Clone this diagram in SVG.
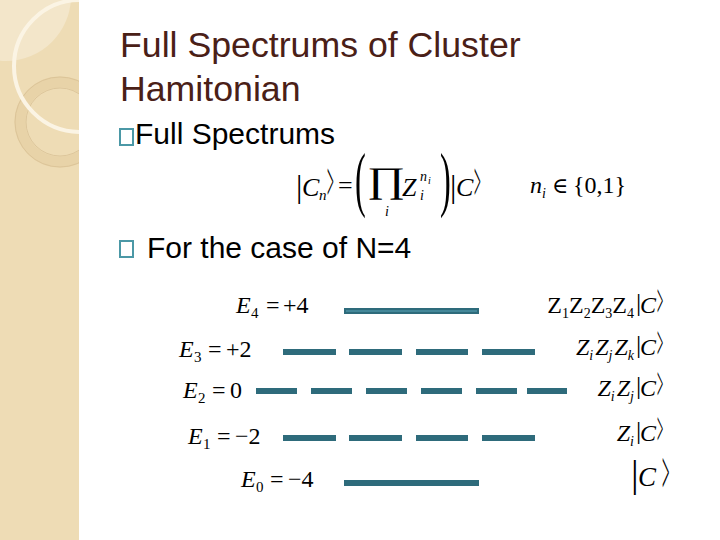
<svg xmlns="http://www.w3.org/2000/svg" width="720" height="540" viewBox="0 0 720 540">
<style>
.ttl{font-family:"Liberation Sans",Arial,sans-serif;font-size:35.7px;fill:#4A2017}
.bt{font-family:"Liberation Sans",Arial,sans-serif;font-size:30px;fill:#000}
.m{font-family:"Liberation Serif","DejaVu Serif",serif;fill:#000}
.mi{font-family:"Liberation Serif","DejaVu Serif",serif;font-style:italic;fill:#000}
.k{font-family:"Liberation Serif","DejaVu Serif",serif;font-size:22px;fill:#000}
.bar{stroke:#2E6B7B;stroke-width:6;fill:none}
.box{fill:none;stroke:#4B98A6;stroke-width:2}
</style>
<rect x="0" y="0" width="720" height="540" fill="#fff"/>
<g id="band">
<rect x="0" y="0" width="79" height="540" fill="#EEDCB5"/>
<clipPath id="bc"><rect x="0" y="0" width="79" height="540"/></clipPath>
<g clip-path="url(#bc)">
<circle cx="6" cy="-4" r="65" fill="#F3E6CA"/>
<circle cx="60" cy="122" r="40" fill="none" stroke="#E8D3A8" stroke-width="11"/>
<circle cx="60" cy="122" r="45" fill="none" stroke="#D8C094" stroke-width="0.8"/>
<circle cx="60" cy="122" r="34" fill="none" stroke="#D8C094" stroke-width="0.8"/>
<circle cx="80" cy="66" r="66" fill="none" stroke="#FBF4E4" stroke-width="4"/>
</g>
</g>
<g id="title">
<text class="ttl" x="120" y="57">Full Spectrums of Cluster</text>
<text class="ttl" x="120" y="101">Hamitonian</text>
</g>
<g id="bullet1">
<rect class="box" x="120" y="129" width="13" height="16"/>
<text class="bt" x="135" y="144">Full Spectrums</text>
</g>
<g id="formula">
<text class="m" x="296" y="197" style="font-size:32px">|</text>
<text class="mi" x="302" y="196" style="font-size:26px">C</text>
<text class="mi" x="319" y="200" style="font-size:15px">n</text>
<text class="k" transform="translate(327,200) scale(0.55,2.45)" x="0" y="0">&gt;</text>
<text class="m" x="338" y="194" style="font-size:26px">=</text>
<text class="m" transform="translate(355,203) scale(0.45,1)" x="0" y="0" style="font-size:72px">(</text>
<text class="m" transform="translate(367,192) scale(1.3,1)" x="0" y="0" style="font-size:36px">∏</text>
<text class="mi" x="385" y="216" style="font-size:14px">i</text>
<text class="mi" x="402" y="196" style="font-size:26px">Z</text>
<text class="mi" x="420" y="181" style="font-size:14px">n</text>
<text class="mi" x="428" y="184" style="font-size:10px">i</text>
<text class="mi" x="420" y="200" style="font-size:14px">i</text>
<text class="m" transform="translate(440,203) scale(0.45,1)" x="0" y="0" style="font-size:72px">)</text>
<text class="m" x="450" y="197" style="font-size:32px">|</text>
<text class="mi" x="456" y="196" style="font-size:26px">C</text>
<text class="k" transform="translate(474,200) scale(0.55,2.45)" x="0" y="0">&gt;</text>
<text class="mi" x="530" y="193" style="font-size:24px">n</text>
<text class="mi" x="542" y="198" style="font-size:14px">i</text>
<text class="m" x="552" y="193" style="font-size:22px">∈</text>
<text class="m" x="573" y="193" style="font-size:24px">{0,1}</text>
</g>
<g id="bullet2">
<rect class="box" x="120" y="241" width="13" height="16"/>
<text class="bt" x="147" y="258">For the case of N=4</text>
</g>
<g id="labels-left" style="font-size:24px">
<g id="e4"><text class="mi" x="236" y="313">E</text><text class="m" x="251" y="318" style="font-size:15px">4</text><text class="m" x="266" y="313">=</text><text class="m" x="283" y="313">+4</text></g>
<g id="e3"><text class="mi" x="179" y="357">E</text><text class="m" x="194" y="362" style="font-size:15px">3</text><text class="m" x="208" y="357">=</text><text class="m" x="226" y="357">+2</text></g>
<g id="e2"><text class="mi" x="183" y="398">E</text><text class="m" x="198" y="403" style="font-size:15px">2</text><text class="m" x="212" y="398">=</text><text class="m" x="230" y="398">0</text></g>
<g id="e1"><text class="mi" x="188" y="444">E</text><text class="m" x="203" y="449" style="font-size:15px">1</text><text class="m" x="217" y="444">=</text><text class="m" x="235" y="444">−2</text></g>
<g id="e0"><text class="mi" x="241" y="487">E</text><text class="m" x="256" y="492" style="font-size:15px">0</text><text class="m" x="270" y="487">=</text><text class="m" x="288" y="487">−4</text></g>
</g>
<g id="levels">
<g id="lv4"><line class="bar" x1="344" y1="311" x2="479" y2="311"/><line x1="346" y1="311" x2="477" y2="311" stroke="#5AA5B8" stroke-width="1"/></g>
<g id="lv3"><path class="bar" d="M283 352H336M349 352H402M416 352H468M482 352H535"/></g>
<g id="lv2"><path class="bar" d="M256 391H297M311 391H352M366 391H407M421 391H462M476 391H517M527 391H567"/></g>
<g id="lv1"><path class="bar" d="M283 438H336M349 438H402M416 438H468M482 438H535"/></g>
<g id="lv0"><line class="bar" x1="344" y1="483" x2="479" y2="483"/></g>
</g>
<g id="labels-right" style="font-size:24px">
<g id="s4"><text class="m" x="634" y="313" text-anchor="end">Z<tspan dy="5" style="font-size:14px">1</tspan><tspan dy="-5">Z</tspan><tspan dy="5" style="font-size:14px">2</tspan><tspan dy="-5">Z</tspan><tspan dy="5" style="font-size:14px">3</tspan><tspan dy="-5">Z</tspan><tspan dy="5" style="font-size:14px">4</tspan></text>
<text class="m" x="636" y="311" style="font-size:26px">|</text><text class="mi" x="640" y="313">C</text><text class="k" transform="translate(657,317) scale(0.5,2.2)" x="0" y="0">&gt;</text></g>
<g id="s3"><text class="mi" x="634" y="355" text-anchor="end">Z<tspan dy="5" style="font-size:14px">i</tspan><tspan dy="-5" dx="2">Z</tspan><tspan dy="5" style="font-size:14px">j</tspan><tspan dy="-5" dx="2">Z</tspan><tspan dy="5" style="font-size:14px">k</tspan></text>
<text class="m" x="636" y="353" style="font-size:26px">|</text><text class="mi" x="640" y="355">C</text><text class="k" transform="translate(657,359) scale(0.5,2.2)" x="0" y="0">&gt;</text></g>
<g id="s2"><text class="mi" x="634" y="396" text-anchor="end">Z<tspan dy="5" style="font-size:14px">i</tspan><tspan dy="-5" dx="2">Z</tspan><tspan dy="5" style="font-size:14px">j</tspan></text>
<text class="m" x="636" y="394" style="font-size:26px">|</text><text class="mi" x="640" y="396">C</text><text class="k" transform="translate(657,400) scale(0.5,2.2)" x="0" y="0">&gt;</text></g>
<g id="s1"><text class="mi" x="634" y="441" text-anchor="end">Z<tspan dy="5" style="font-size:14px">i</tspan></text>
<text class="m" x="636" y="439" style="font-size:26px">|</text><text class="mi" x="640" y="441">C</text><text class="k" transform="translate(657,445) scale(0.5,2.2)" x="0" y="0">&gt;</text></g>
<g id="s0"><text class="m" x="631" y="487" style="font-size:38px">|</text><text class="mi" x="638" y="486" style="font-size:27px">C</text><text class="k" transform="translate(662,493) scale(0.6,2.8)" x="0" y="0">&gt;</text></g>
</g>
</svg>
